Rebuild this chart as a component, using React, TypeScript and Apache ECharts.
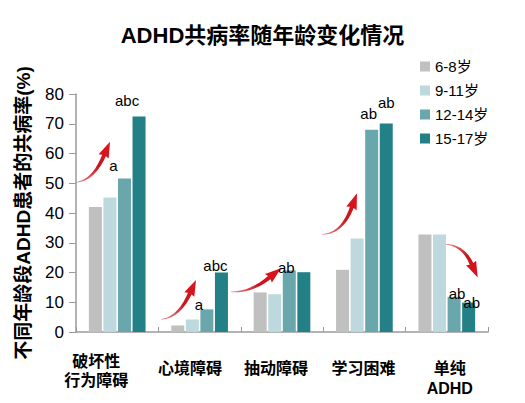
import React, { useEffect, useRef } from "react";
import * as echarts from "echarts";

// ---- data ----
const categories = ["破坏性\n行为障碍", "心境障碍", "抽动障碍", "学习困难", "单纯\nADHD"];
const ageGroups = ["6-8岁", "9-11岁", "12-14岁", "15-17岁"];
const age6to8 = [42.0, 2.2, 13.3, 20.9, 32.8];
const age9to11 = [45.2, 4.2, 12.7, 31.4, 32.8];
const age12to14 = [51.6, 7.6, 20.7, 68.0, 11.8];
const age15to17 = [72.4, 20.0, 20.1, 70.1, 9.9];
const sig12to14 = ["a", "a", "ab", "ab", "ab"];
const sig15to17 = ["abc", "abc", "", "ab", "ab"];
const yTicks = [0, 10, 20, 30, 40, 50, 60, 70, 80];

// ---- layout / style ----
const FONT = '"Liberation Sans", Arial, "Noto Sans CJK SC", sans-serif';
const COLORS = ["#c0c0c0", "#bdd9dd", "#69a7ad", "#238087"];
const off12to14 = [[-11, 0], [-8, 8], [-3, 10], [-3, -4], [3, 9]];
const off15to17 = [[-12, -4], [-6, 5], [0, 0], [0, -8], [3, 12]];
const xLabelShift = [-21, -9.5, -6, -1, 3];
const xLabelLineHeights = [[5, 33], [19], [19], [19], [19, 20]];

type P = [number, number];
function arrowPolygon(S: P, C: P, T: P, headLen: number, headHalf: number, w0: number, w1: number) {
  let dx = T[0] - C[0], dy = T[1] - C[1];
  const dl = Math.hypot(dx, dy);
  dx /= dl; dy /= dl;
  const B: P = [T[0] - dx * headLen, T[1] - dy * headLen];
  const left: P[] = [], right: P[] = [];
  const n = 24;
  for (let i = 0; i <= n; i++) {
    const t = i / n;
    const x = (1 - t) * (1 - t) * S[0] + 2 * (1 - t) * t * C[0] + t * t * B[0];
    const y = (1 - t) * (1 - t) * S[1] + 2 * (1 - t) * t * C[1] + t * t * B[1];
    const tx = 2 * (1 - t) * (C[0] - S[0]) + 2 * t * (B[0] - C[0]);
    const ty = 2 * (1 - t) * (C[1] - S[1]) + 2 * t * (B[1] - C[1]);
    const tl = Math.hypot(tx, ty) || 1;
    const nx = -ty / tl, ny = tx / tl;
    const w = w0 + (w1 - w0) * t;
    left.push([x + nx * w, y + ny * w]);
    right.push([x - nx * w, y - ny * w]);
  }
  const nx = -dy, ny = dx;
  const pts: P[] = [
    ...left,
    [B[0] + nx * headHalf - dx * 1, B[1] + ny * headHalf - dy * 1],
    T,
    [B[0] - nx * headHalf - dx * 1, B[1] - ny * headHalf - dy * 1],
    ...right.reverse(),
  ];
  return {
    type: "polygon",
    silent: true,
    shape: { points: pts },
    style: {
      fill: {
        type: "linear",
        x: S[0], y: S[1], x2: T[0], y2: T[1],
        global: true,
        colorStops: [
          { offset: 0, color: "rgba(215,40,50,0.55)" },
          { offset: 0.5, color: "#c8141e" },
          { offset: 1, color: "#e0141c" },
        ],
      },
    },
  };
}

const arrows = [
  { S: [75.5, 182.3] as P, C: [93, 181] as P, T: [110, 141.7] as P },
  { S: [161, 319.3] as P, C: [178.5, 318] as P, T: [196, 280] as P },
  { S: [231, 291.7] as P, C: [250, 293] as P, T: [281, 268.3] as P },
  { S: [321.7, 234.3] as P, C: [342, 234] as P, T: [357, 193.3] as P },
  { S: [445, 244.3] as P, C: [463, 245] as P, T: [477.7, 277.5] as P },
];

export default function App() {
  const ref = useRef<HTMLDivElement>(null);
  useEffect(() => {
    if (!ref.current) return;
    const chart = echarts.init(ref.current, null, { renderer: "svg" });

    const rich: Record<string, any> = {};
    categories.forEach((c, i) => {
      const shift = xLabelShift[i];
      c.split("\n").forEach((_, j) => {
        rich[`l${i}_${j}`] = {
          fontSize: 16,
          fontWeight: "bold",
          fontFamily: FONT,
          color: "#000",
          lineHeight: xLabelLineHeights[i][j] ?? 19,
          padding: [0, shift < 0 ? -2 * shift : 0, 0, shift > 0 ? 2 * shift : 0],
        };
      });
    });

    const mkLabeled = (vals: number[], sigs: string[], offs: number[][]) =>
      vals.map((v, i) => ({
        value: v,
        label: {
          show: !!sigs[i],
          formatter: sigs[i],
          offset: offs[i],
        },
      }));

    const seriesData = [
      age6to8,
      age9to11,
      mkLabeled(age12to14, sig12to14, off12to14),
      mkLabeled(age15to17, sig15to17, off15to17),
    ];

    chart.setOption({
      animation: false,
      backgroundColor: "#fff",
      textStyle: { fontFamily: FONT },
      title: {
        text: "ADHD共病率随年龄变化情况",
        left: "center",
        top: 19,
        textStyle: { fontSize: 22, fontWeight: "bold", color: "#000", fontFamily: FONT },
      },
      legend: {
        orient: "vertical",
        left: 415,
        top: 54,
        icon: "rect",
        itemWidth: 10,
        itemHeight: 10,
        itemGap: 9,
        data: ageGroups,
        textStyle: { fontSize: 15, color: "#000", fontFamily: FONT },
      },
      grid: { left: 76, right: 37, top: 94, bottom: 71 },
      xAxis: {
        type: "category",
        data: categories,
        axisLine: { lineStyle: { color: "#9a9a9a", width: 1.5 } },
        axisTick: { show: true, inside: true, length: 5, lineStyle: { color: "#9a9a9a" } },
        axisLabel: {
          interval: 0,
          margin: 27,
          rich,
          formatter: (value: string, index: number) =>
            value
              .split("\n")
              .map((line, j) => `{l${index}_${j}|${line}}`)
              .join("\n"),
        },
      },
      yAxis: {
        type: "value",
        min: yTicks[0],
        max: yTicks[yTicks.length - 1],
        interval: yTicks[1] - yTicks[0],
        name: "不同年龄段ADHD患者的共病率(%)",
        nameLocation: "middle",
        nameGap: 43,
        nameTextStyle: { fontSize: 19, fontWeight: "bold", color: "#000", fontFamily: FONT },
        axisLine: { show: true, lineStyle: { color: "#9a9a9a", width: 1.5 } },
        axisTick: { show: true, length: 7, lineStyle: { color: "#9a9a9a" } },
        splitLine: { show: false },
        axisLabel: { fontSize: 17, color: "#000", margin: 12, fontFamily: FONT },
      },
      series: ageGroups.map((name, k) => ({
        name,
        type: "bar",
        barWidth: 13,
        barGap: "12%",
        data: seriesData[k],
        itemStyle: { color: COLORS[k] },
        label: {
          show: false,
          position: "top",
          distance: 5,
          fontSize: 15,
          color: "#000",
          fontFamily: FONT,
        },
      })),
      graphic: arrows.map((a) => arrowPolygon(a.S, a.C, a.T, 15, 5.5, 0.3, 2)),
    });
    return () => chart.dispose();
  }, []);
  return (
    <div
      ref={ref}
      style={{ position: "fixed", left: 0, top: 0, width: 525, height: 403, background: "#fff" }}
    />
  );
}
